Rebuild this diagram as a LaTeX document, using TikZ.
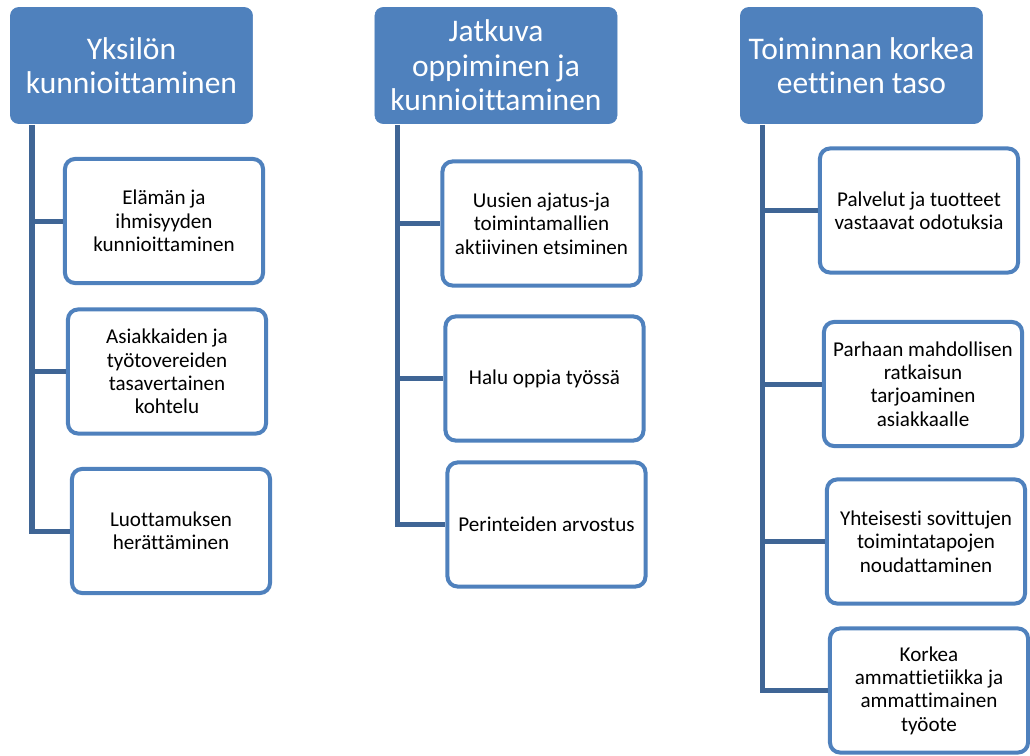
\documentclass[tikz,border=0pt]{standalone}
\usepackage{fontspec}
\setmainfont{Carlito}[Ligatures=NoCommon]
\usetikzlibrary{positioning}
\definecolor{boxblue}{HTML}{4F81BD}
\definecolor{linkblue}{HTML}{3F6595}

\begin{document}
\begin{tikzpicture}[x=0.025cm, y=-0.025cm,
  head/.style={fill=boxblue, draw=boxblue, rounded corners=0.2cm, text=white,
    minimum width=6.05cm, minimum height=2.9cm, align=center,
    font=\fontsize{22.4}{24.5}\selectfont},
  item/.style={fill=white, draw=boxblue, line width=0.1cm, rounded corners=0.25cm,
    minimum width=4.95cm, minimum height=3.1cm, align=center,
    font=\fontsize{15}{16.6}\selectfont},
  link/.style={draw=linkblue, line width=0.125cm}]
  \useasboundingbox (0,0) rectangle (1030,755);

  % headers
  \node[head] (H1) at (131.5,65.5) {Yksilön\\kunnioittaminen};
  \node[head] (H2) at (496,65.5) {Jatkuva\\oppiminen ja\\kunnioittaminen};
  \node[head] (H3) at (861.5,65.5) {Toiminnan korkea\\eettinen taso};

  % trunk tops
  \coordinate (T1) at (32,125);
  \coordinate (T2) at (397,125);
  \coordinate (T3) at (762,125);

  % column 1
  \node[item] (C11) at (164,221) {Elämän ja\\ihmisyyden\\kunnioittaminen};
  \node[item] (C12) at (167,371.5) {Asiakkaiden ja\\työtovereiden\\tasavertainen\\kohtelu};
  \node[item] (C13) at (171,531) {Luottamuksen\\herättäminen};

  % column 2
  \node[item] (C21) at (541.5,223.5) {Uusien ajatus-ja\\toimintamallien\\aktiivinen etsiminen};
  \node[item] (C22) at (544.5,378.5) {Halu oppia työssä};
  \node[item] (C23) at (546.5,524.5) {Perinteiden arvostus};

  % column 3
  \node[item] (C31) at (919,210.5) {Palvelut ja tuotteet\\vastaavat odotuksia};
  \node[item] (C32) at (923,384) {Parhaan mahdollisen\\ratkaisun\\tarjoaminen\\asiakkaalle};
  \node[item] (C33) at (926,541.5) {Yhteisesti sovittujen\\toimintatapojen\\noudattaminen};
  \node[item] (C34) at (929,690.5) {Korkea\\ammattietiikka ja\\ammattimainen\\työote};

  % connectors
  \draw[link] (T1) |- (C13.west);
  \draw[link] (T1 |- C11.west) -- (C11.west);
  \draw[link] (T1 |- C12.west) -- (C12.west);
  \draw[link] (T2) |- (C23.west);
  \draw[link] (T2 |- C21.west) -- (C21.west);
  \draw[link] (T2 |- C22.west) -- (C22.west);
  \draw[link] (T3) |- (C34.west);
  \draw[link] (T3 |- C31.west) -- (C31.west);
  \draw[link] (T3 |- C32.west) -- (C32.west);
  \draw[link] (T3 |- C33.west) -- (C33.west);
\end{tikzpicture}
\end{document}
